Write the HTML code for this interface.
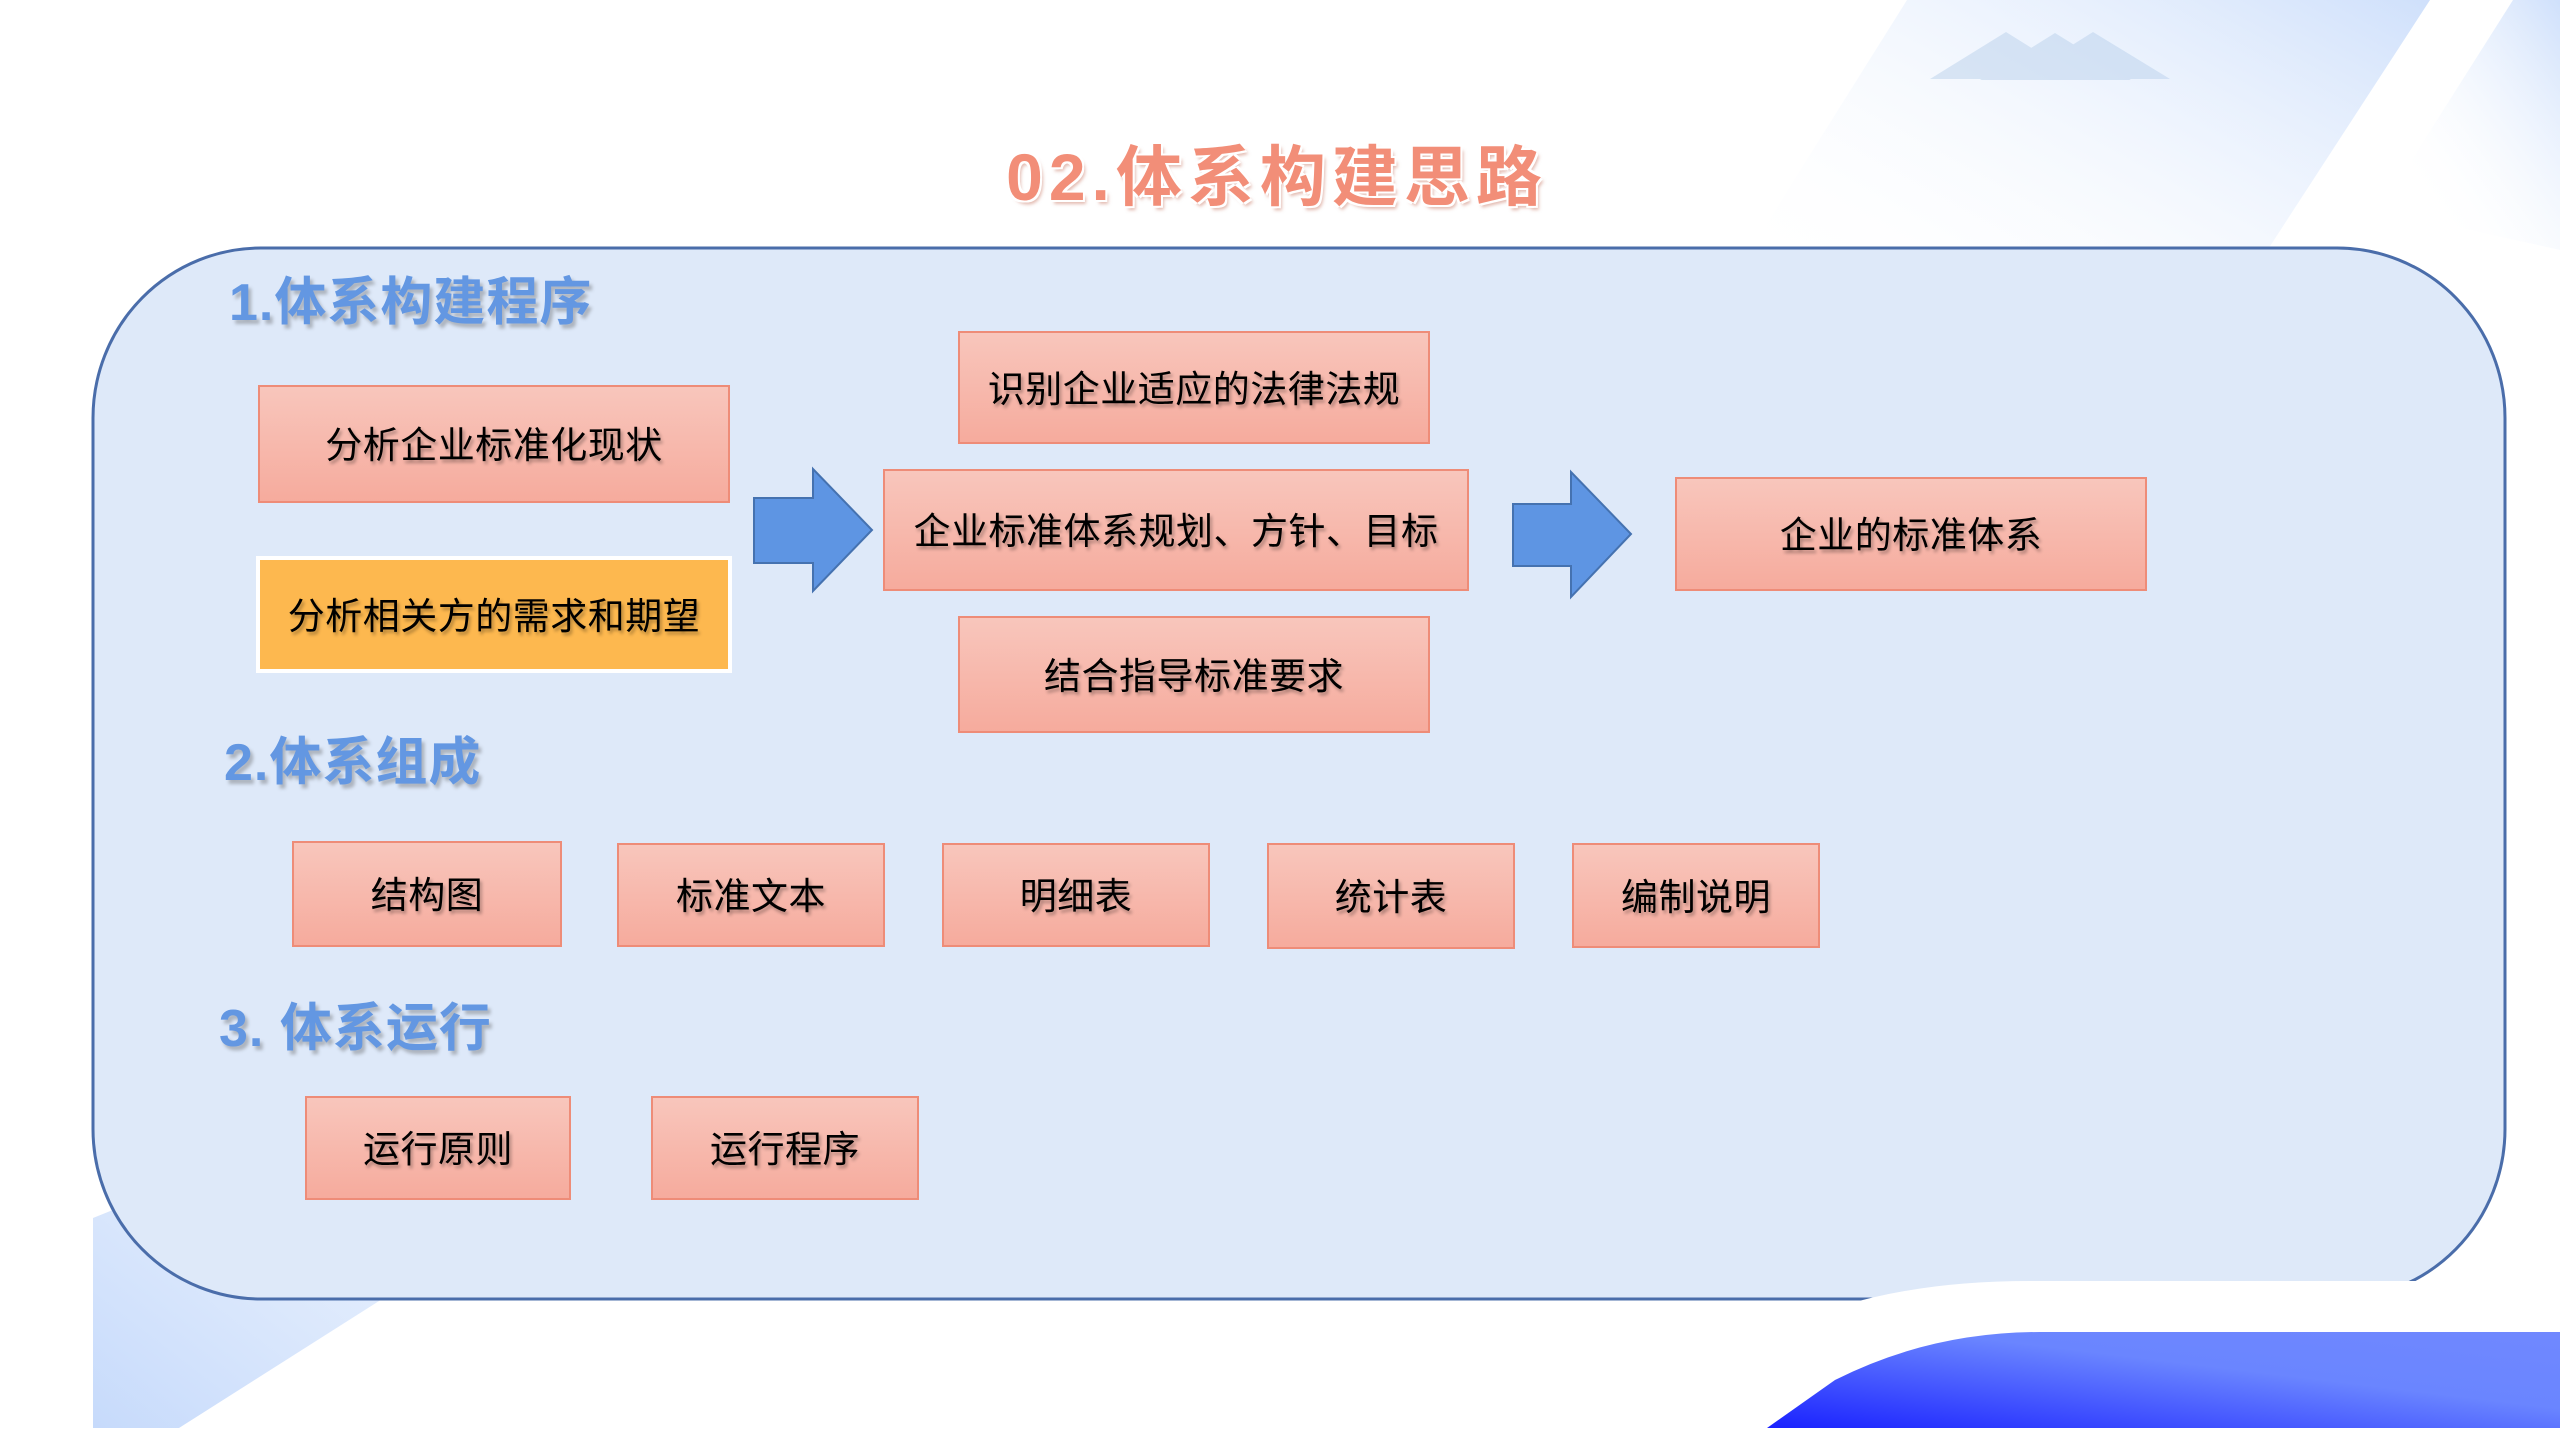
<!DOCTYPE html>
<html><head><meta charset="utf-8">
<style>
*{margin:0;padding:0;box-sizing:border-box}
body{width:2560px;height:1440px;overflow:hidden;background:#fff;position:relative;font-family:"Liberation Sans","Noto Sans CJK SC",sans-serif}
svg.bg{position:absolute;left:0;top:0}
.t{position:absolute;white-space:nowrap}
.title{left:0;width:2554px;text-align:center;top:124px;font-size:66px;font-weight:bold;color:#F28E78;letter-spacing:6px;text-shadow:2px 2px 0 #fff,-2px -2px 0 #fff,2px -2px 0 #fff,-2px 2px 0 #fff,3px 4px 3px rgba(200,120,100,.5)}
.h{font-size:52px;font-weight:bold;color:#6397E2;letter-spacing:1px;text-shadow:3px 4px 3px rgba(80,80,80,.35)}
.b{position:absolute;border:2px solid #EE8C78;background:linear-gradient(#F8C6BC,#F6AB9D);display:flex;align-items:center;justify-content:center;font-size:37px;letter-spacing:.5px;color:#000;text-shadow:2px 3px 3px rgba(0,0,0,.3);padding-bottom:4px}
.o{background:#FDB84F;border:4px solid #fff}
</style></head><body>
<svg class="bg" width="2560" height="1440" viewBox="0 0 2560 1440">
<defs>
<linearGradient id="g1" x1="1" y1="0" x2="0" y2="1"><stop offset="0" stop-color="#cfe0fb"/><stop offset=".8" stop-color="#fff" stop-opacity="0"/></linearGradient>
<linearGradient id="g2" x1="0" y1="1" x2="1" y2="0"><stop offset="0" stop-color="#c6dafb"/><stop offset="1" stop-color="#e4eefd" stop-opacity=".3"/></linearGradient>
<linearGradient id="g3" x1="0" y1="1" x2="1" y2="0"><stop offset="0" stop-color="#1a22ff"/><stop offset=".6" stop-color="#6a85ff"/><stop offset="1" stop-color="#7088ff"/></linearGradient>
</defs>
<polygon points="1907,0 2430,0 2170,400 1700,330" fill="url(#g1)"/>
<polygon points="2513,0 2560,0 2560,250 2380,210" fill="url(#g1)"/>
<g fill="#b4cdea" opacity=".45">
<polygon points="1930,79 2006,32 2081,79"/><polygon points="1980,80 2055,33 2131,80"/><polygon points="2018,79 2093,32 2170,79"/>
</g>
<polygon points="93,1218 560,1030 612,1153 179,1428 93,1428" fill="url(#g2)"/>
<rect x="93" y="248" width="2412" height="1051" rx="168" ry="170" fill="#DEE9F9" stroke="#4A6DAA" stroke-width="3"/>
<path d="M1655,1428 L1780,1330 Q1880,1281 2030,1281 L2560,1281 L2560,1428 Z" fill="#fff"/>
<path d="M1767,1428 L1835,1380 Q1930,1332 2040,1332 L2560,1332 L2560,1428 Z" fill="url(#g3)"/>
<polygon points="754,498 813,498 813,469 872,530 813,591 813,563 754,563" fill="#5E95E3" stroke="#4572B0" stroke-width="2"/>
<polygon points="1513,504 1571,504 1571,472 1631,534 1571,597 1571,566 1513,566" fill="#5E95E3" stroke="#4572B0" stroke-width="2"/>
</svg>
<div class="t title">02.体系构建思路</div>
<div class="t h" style="left:229px;top:260px">1.体系构建程序</div>
<div class="t h" style="left:224px;top:720px">2.体系组成</div>
<div class="t h" style="left:219px;top:986px">3. 体系运行</div>
<div class="b" style="left:258px;top:385px;width:472px;height:118px">分析企业标准化现状</div>
<div class="b o" style="left:256px;top:556px;width:476px;height:117px">分析相关方的需求和期望</div>
<div class="b" style="left:958px;top:331px;width:472px;height:113px">识别企业适应的法律法规</div>
<div class="b" style="left:883px;top:469px;width:586px;height:122px">企业标准体系规划、方针、目标</div>
<div class="b" style="left:958px;top:616px;width:472px;height:117px">结合指导标准要求</div>
<div class="b" style="left:1675px;top:477px;width:472px;height:114px">企业的标准体系</div>
<div class="b" style="left:292px;top:841px;width:270px;height:106px">结构图</div>
<div class="b" style="left:617px;top:843px;width:268px;height:104px">标准文本</div>
<div class="b" style="left:942px;top:843px;width:268px;height:104px">明细表</div>
<div class="b" style="left:1267px;top:843px;width:248px;height:106px">统计表</div>
<div class="b" style="left:1572px;top:843px;width:248px;height:105px">编制说明</div>
<div class="b" style="left:305px;top:1096px;width:266px;height:104px">运行原则</div>
<div class="b" style="left:651px;top:1096px;width:268px;height:104px">运行程序</div>
</body></html>
